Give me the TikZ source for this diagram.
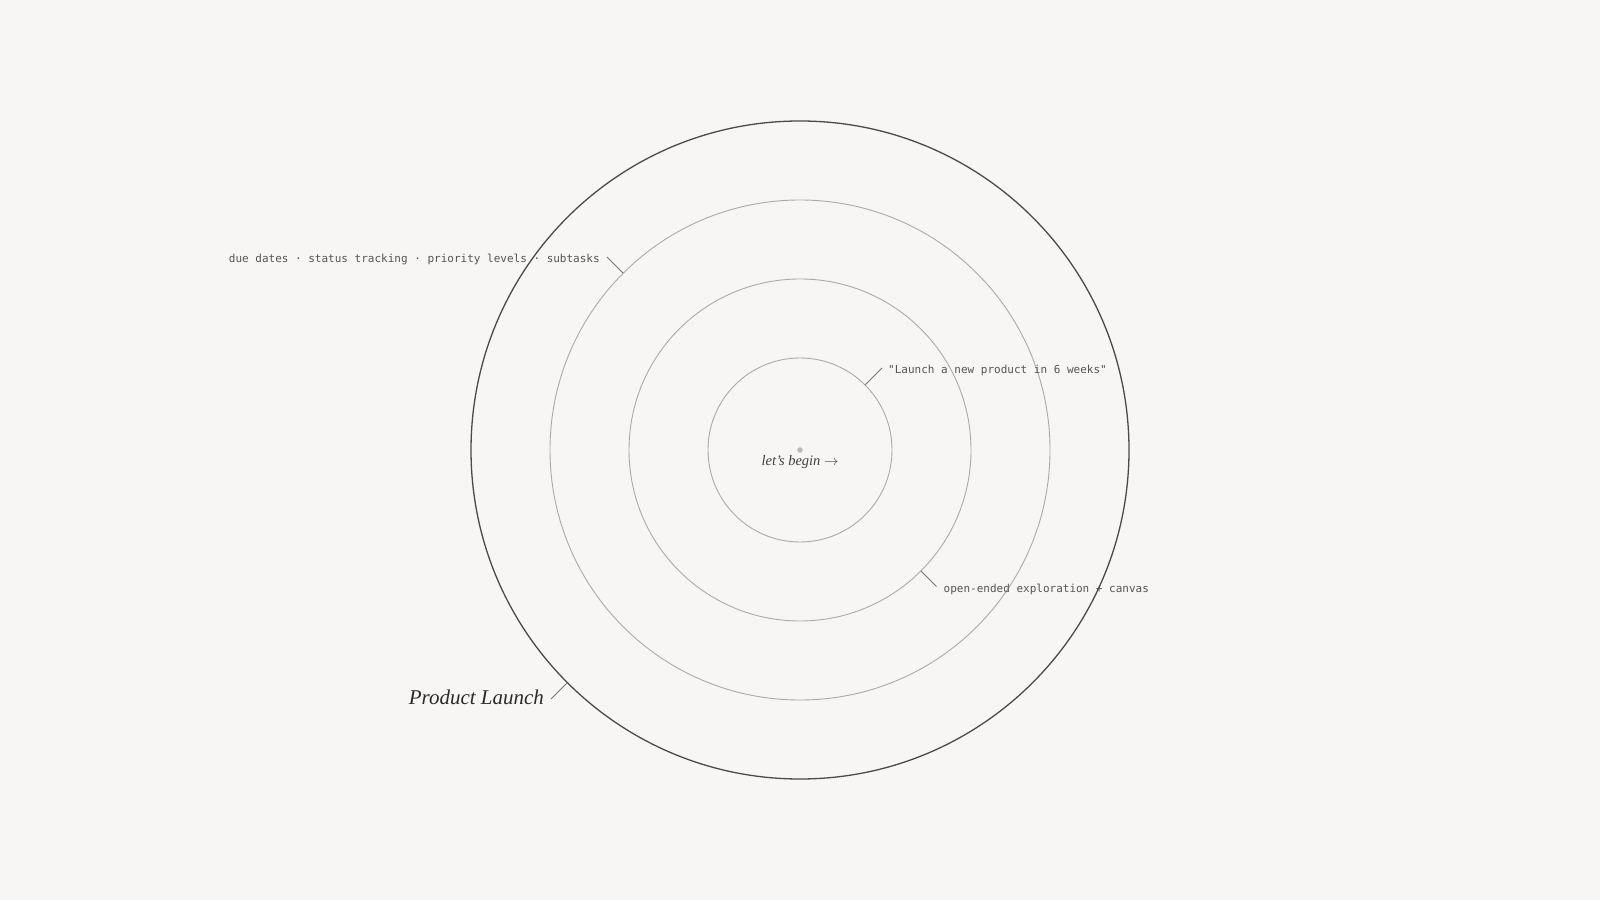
\documentclass[tikz,border=0pt]{standalone}
\usepackage{fontspec}
\setmainfont{Liberation Serif}
\setmonofont{DejaVu Sans Mono}
\definecolor{bg}{HTML}{F7F6F4}
\definecolor{outerc}{HTML}{4A4A4A}
\definecolor{ringc}{HTML}{AAAAAA}
\definecolor{tickc}{HTML}{777777}
\definecolor{monoc}{HTML}{555555}
\definecolor{titlec}{HTML}{2A2A2A}
\definecolor{dotc}{HTML}{BBBBBB}
\tikzset{
  ring/.style={circle, draw=ringc, line width=0.9pt, inner sep=0pt, outer sep=0pt, minimum size=#1},
  outerring/.style={circle, draw=outerc, line width=1.3pt, inner sep=0pt, outer sep=0pt, minimum size=#1},
  tickline/.style={draw=tickc, line width=1pt},
  monolabel/.style={font=\ttfamily\fontsize{11}{13}\selectfont, text=monoc, inner sep=0pt},
}
\begin{document}
\begin{tikzpicture}[x=1pt,y=1pt]
\fill[bg] (0,0) rectangle (1600,900);
\useasboundingbox (0,0) rectangle (1600,900);
\coordinate (c0) at (800,450);
\node[outerring=658pt] (r4) at (c0) {};
\node[ring=500pt] (r3) at (c0) {};
\node[ring=342pt] (r2) at (c0) {};
\node[ring=184pt] (r1) at (c0) {};
\fill[dotc] (c0) circle (2.8pt);
\node[font=\itshape\fontsize{14.5}{16}\selectfont, text=titlec!90, inner sep=0pt] (begin) at (800,438) {let's begin \rmfamily$\rightarrow$};
% ticks
\coordinate (t1) at ([shift={(45:116)}]c0);
\coordinate (t2) at ([shift={(-45:193)}]c0);
\coordinate (t3) at ([shift={(135:273)}]c0);
\coordinate (t4) at ([shift={(225:352)}]c0);
\draw[tickline] (r1.45) -- (t1);
\draw[tickline] (r2.-45) -- (t2);
\draw[tickline] (r3.135) -- (t3);
\draw[tickline] (r4.225) -- (t4);
\node[monolabel, anchor=west] (l1) at ([xshift=6pt,yshift=-2.5pt]t1) {"Launch a new product in 6 weeks"};
\node[monolabel, anchor=west] (l2) at ([xshift=7pt,yshift=-2.5pt]t2) {open-ended exploration + canvas};
\node[monolabel, anchor=east] (l3) at ([xshift=-7pt,yshift=-2.5pt]t3) {due dates · status tracking · priority levels · subtasks};
\node[font=\itshape\fontsize{21}{24}\selectfont, text=titlec, inner sep=0pt, anchor=east] (l4) at ([xshift=-7pt,yshift=1.5pt]t4) {Product Launch};
\end{tikzpicture}
\end{document}
